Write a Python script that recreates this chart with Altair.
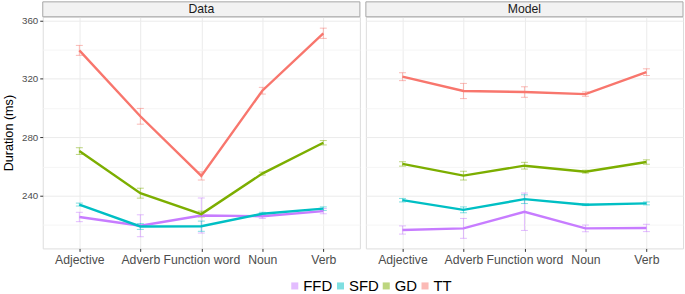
import altair as alt
import pandas as pd

categories = ["Adjective", "Adverb", "Function word", "Noun", "Verb"]
measures = ["FFD", "SFD", "GD", "TT"]
colors = ["#C77CFF", "#00BFC4", "#7CAE00", "#F8766D"]

# Data panel: means and error half-widths (ms)
data_ffd = [225.5, 219.5, 226.5, 226.0, 229.5]
data_ffd_err = [3.2, 7.5, 12.0, 1.5, 1.8]
data_sfd = [234.0, 219.0, 219.2, 227.7, 231.2]
data_sfd_err = [1.0, 2.0, 3.5, 1.0, 1.2]
data_gd = [270.6, 241.8, 227.5, 255.2, 276.3]
data_gd_err = [2.3, 3.4, 2.0, 1.0, 1.5]
data_tt = [339.5, 294.4, 253.6, 311.9, 351.2]
data_tt_err = [3.4, 5.4, 2.8, 2.3, 3.5]

# Model panel
model_ffd = [216.6, 217.7, 229.1, 217.7, 218.0]
model_ffd_err = [2.8, 6.8, 12.8, 2.3, 2.5]
model_sfd = [237.0, 230.4, 237.7, 233.9, 234.8]
model_sfd_err = [1.2, 2.0, 3.0, 0.6, 1.0]
model_gd = [261.8, 253.8, 260.6, 256.5, 263.1]
model_gd_err = [1.5, 3.0, 2.3, 1.0, 1.5]
model_tt = [321.5, 311.7, 311.0, 309.6, 324.6]
model_tt_err = [2.7, 5.2, 3.6, 1.5, 2.3]

FONT = "Liberation Sans"
W = 319
H = 233


def build_df(series):
    rows = []
    for m, (vals, errs) in series.items():
        for i, (c, v, e) in enumerate(zip(categories, vals, errs)):
            rows.append({"category": c, "idx": i, "measure": m, "value": v,
                         "lo": v - e, "hi": v + e})
    return pd.DataFrame(rows)


df_data = build_df({"FFD": (data_ffd, data_ffd_err), "SFD": (data_sfd, data_sfd_err),
                    "GD": (data_gd, data_gd_err), "TT": (data_tt, data_tt_err)})
df_model = build_df({"FFD": (model_ffd, model_ffd_err), "SFD": (model_sfd, model_sfd_err),
                     "GD": (model_gd, model_gd_err), "TT": (model_tt, model_tt_err)})

grid_color = {"condition": {"test": "datum.value % 40 === 0", "value": "#EBEBEB"},
              "value": "#F5F5F5"}


def panel(df, title, show_y):
    xax = alt.Axis(title=None, labelAngle=0, grid=True, gridColor="#EBEBEB",
                   labelFont=FONT, labelFontSize=12.3, labelColor="#4D4D4D",
                   tickColor="#333333", tickSize=3, labelPadding=2, domain=False)
    x = alt.X("category:N", sort=categories,
              scale=alt.Scale(type="point", padding=0.6), axis=xax)
    if show_y:
        yax = alt.Axis(title="Duration (ms)", values=list(range(220, 361, 20)),
                       labelExpr="datum.value % 40 === 0 ? datum.label : ''",
                       gridColor=grid_color,
                       tickColor={"condition": {"test": "datum.value % 40 === 0", "value": "#333333"},
                                  "value": "transparent"},
                       tickSize=3, labelPadding=2, labelFont=FONT, labelFontSize=9.8,
                       labelColor="#4D4D4D", titleFont=FONT, titleFontSize=12.7,
                       titleFontWeight="normal", titleColor="#000000", titlePadding=6,
                       domain=False)
    else:
        yax = alt.Axis(title=None, values=list(range(220, 361, 20)), labels=False,
                       ticks=False, gridColor=grid_color, domain=False)
    yscale = alt.Scale(domain=[204, 362.5], nice=False, zero=False)
    color = alt.Color("measure:N", scale=alt.Scale(domain=measures, range=colors),
                      legend=alt.Legend(title=None, orient="none", direction="horizontal",
                                        legendX=246, legendY=263,
                                        symbolType="square", symbolSize=50,
                                        symbolStrokeWidth=0, labelFont=FONT,
                                        labelFontSize=15, labelColor="#000000",
                                        labelOffset=1, columnPadding=-12))
    base = alt.Chart(df)
    rules = base.mark_rule(strokeWidth=1, opacity=0.5).encode(
        x=x, y=alt.Y("lo:Q", scale=yscale, axis=yax), y2="hi:Q", color=color)
    cap_lo = base.mark_tick(size=7, thickness=1, opacity=0.5).encode(
        x=x, y=alt.Y("lo:Q", scale=yscale, axis=yax), color=color)
    cap_hi = base.mark_tick(size=7, thickness=1, opacity=0.5).encode(
        x=x, y=alt.Y("hi:Q", scale=yscale, axis=yax), color=color)
    lines = base.mark_line(strokeWidth=2.4).encode(
        x=x, y=alt.Y("value:Q", scale=yscale, axis=yax), color=color,
        order=alt.Order("idx:Q"))
    strip_df = pd.DataFrame({"t": [title]})
    strip = alt.Chart(strip_df).mark_rect(fill="#F2F2F2", stroke="#A6A6A6", strokeWidth=1).encode(
        x=alt.value(0), x2=alt.value(W), y=alt.value(-15), y2=alt.value(0))
    strip_text = alt.Chart(strip_df).mark_text(font=FONT, fontSize=12.3, color="#1A1A1A",
                                               baseline="middle").encode(
        x=alt.value(W / 2), y=alt.value(-7.5), text="t:N")
    return alt.layer(rules, cap_lo, cap_hi, lines, strip, strip_text).properties(
        width=W, height=H)


chart = alt.hconcat(panel(df_data, "Data", True), panel(df_model, "Model", False),
                    spacing=4).properties(
    padding={"left": 2, "top": 0, "right": 1, "bottom": 0},
).configure_view(stroke="#A6A6A6", strokeWidth=1).configure(background="white")

chart.save("out.html", embed_options={"renderer": "svg", "actions": False})
